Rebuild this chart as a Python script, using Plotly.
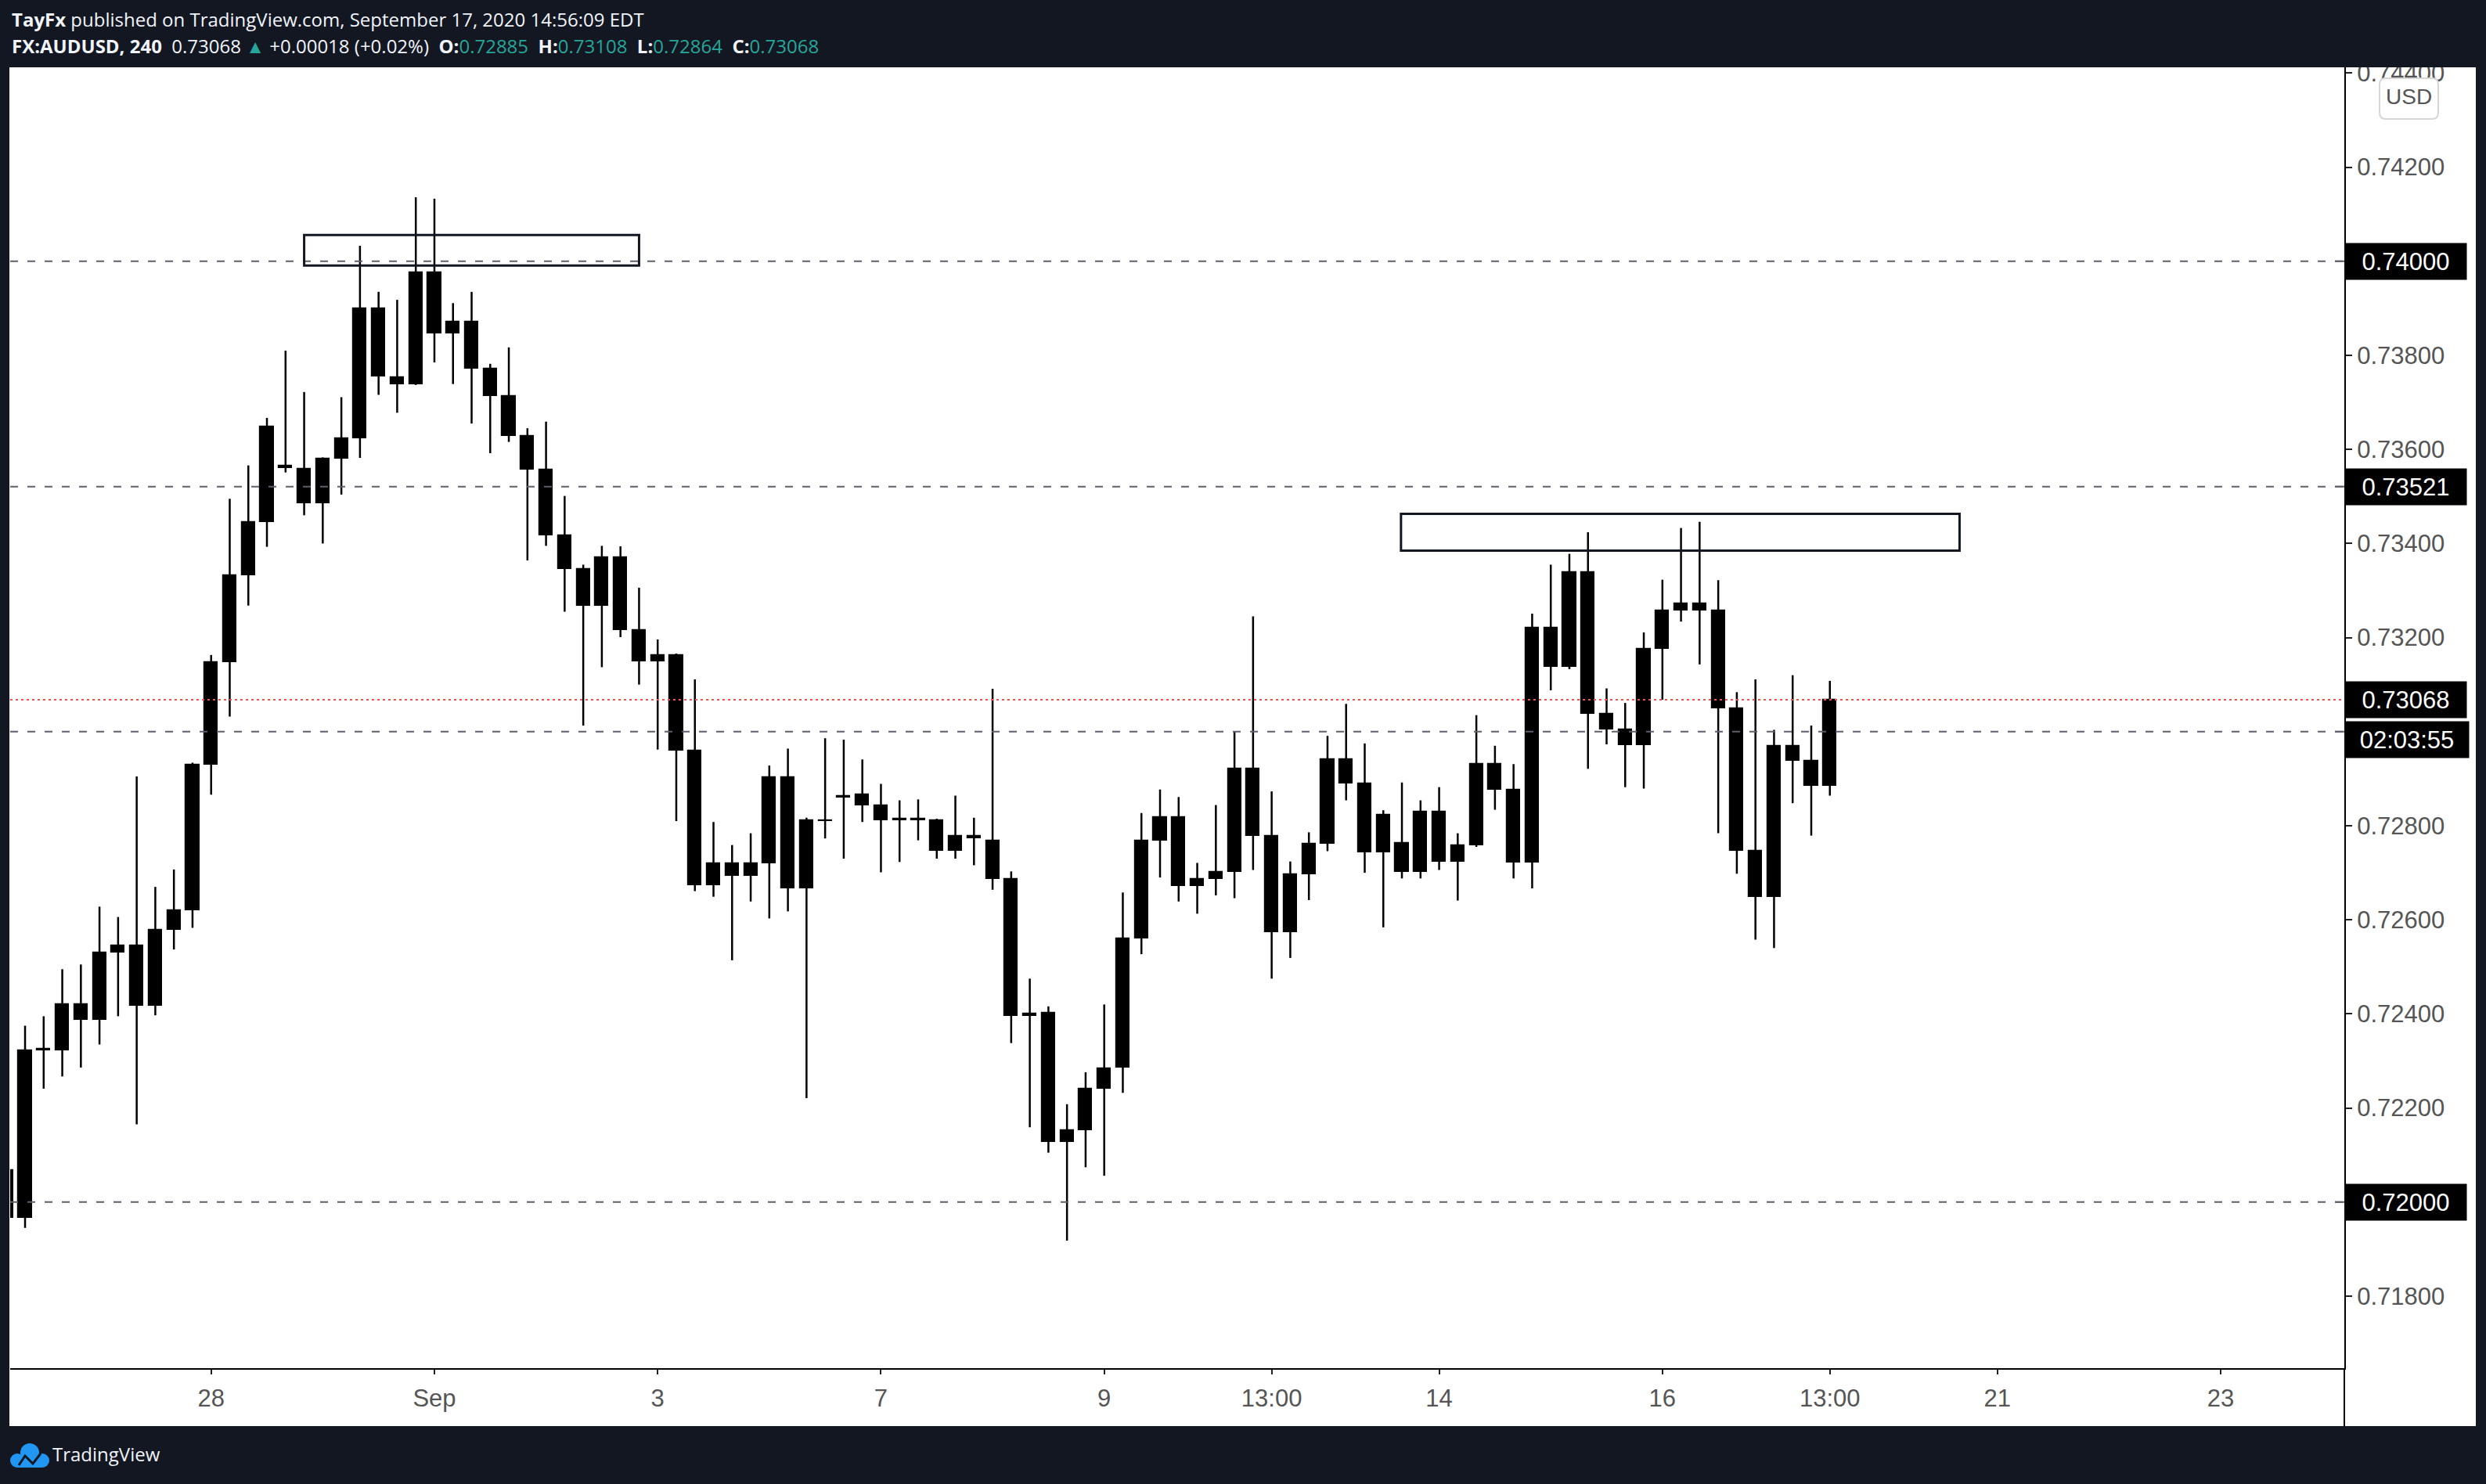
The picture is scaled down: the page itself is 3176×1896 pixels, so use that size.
import plotly.graph_objects as go

# ---------------- data (FX:AUDUSD, 4h bars; bar 0 = Sep 17 13:00) ----------------
bar_pos = list(range(-98, 1))

opens = [0.72068, 0.71967, 0.72323, 0.72322, 0.72420, 0.72387, 0.72530, 0.72545, 0.72417, 0.72579,
         0.72620, 0.72929, 0.73147, 0.73332, 0.73446, 0.73566, 0.73558, 0.73485, 0.73580, 0.73623,
         0.73899, 0.73753, 0.73739, 0.73977, 0.73847, 0.73872, 0.73771, 0.73714, 0.73628, 0.73557,
         0.73418, 0.73346, 0.73267, 0.73371, 0.73216, 0.73149, 0.73163, 0.72960, 0.72674, 0.72720,
         0.72693, 0.72720, 0.72903, 0.72667, 0.72812, 0.72860, 0.72866, 0.72844, 0.72812, 0.72815,
         0.72812, 0.72746, 0.72779, 0.72768, 0.72687, 0.72395, 0.72403, 0.72128, 0.72153, 0.72241,
         0.72286, 0.72560, 0.72769, 0.72818, 0.72672, 0.72687, 0.72701, 0.72921, 0.72778, 0.72574,
         0.72697, 0.72762, 0.72941, 0.72890, 0.72743, 0.72763, 0.72701, 0.72830, 0.72723, 0.72758,
         0.72931, 0.72876, 0.72721, 0.73221, 0.73137, 0.73339, 0.73038, 0.73004, 0.72971, 0.73176,
         0.73257, 0.73273, 0.73257, 0.73049, 0.72746, 0.72648, 0.72970, 0.72938, 0.72885]
highs = [0.72079, 0.72375, 0.72395, 0.72495, 0.72505, 0.72628, 0.72606, 0.72905, 0.72670, 0.72707,
         0.72934, 0.73163, 0.73495, 0.73566, 0.73667, 0.73810, 0.73722, 0.73583, 0.73711, 0.74033,
         0.73935, 0.73918, 0.74136, 0.74133, 0.73911, 0.73935, 0.73782, 0.73817, 0.73645, 0.73659,
         0.73501, 0.73355, 0.73395, 0.73394, 0.73306, 0.73196, 0.73166, 0.73111, 0.72808, 0.72759,
         0.72784, 0.72928, 0.72964, 0.72817, 0.72986, 0.72983, 0.72941, 0.72889, 0.72854, 0.72856,
         0.72815, 0.72864, 0.72817, 0.73091, 0.72703, 0.72475, 0.72416, 0.72208, 0.72276, 0.72420,
         0.72658, 0.72827, 0.72877, 0.72861, 0.72721, 0.72844, 0.73001, 0.73245, 0.72873, 0.72724,
         0.72786, 0.72991, 0.73059, 0.72975, 0.72833, 0.72892, 0.72854, 0.72882, 0.72784, 0.73035,
         0.72970, 0.72931, 0.73251, 0.73355, 0.73378, 0.73424, 0.73092, 0.73061, 0.73211, 0.73323,
         0.73433, 0.73446, 0.73322, 0.73084, 0.73111, 0.73004, 0.73120, 0.73013, 0.73108]
lows = [0.71961, 0.71945, 0.72241, 0.72267, 0.72286, 0.72335, 0.72395, 0.72165, 0.72397, 0.72537,
        0.72583, 0.72866, 0.73032, 0.73268, 0.73393, 0.73551, 0.73460, 0.73400, 0.73504, 0.73582,
        0.73716, 0.73678, 0.73737, 0.73785, 0.73739, 0.73655, 0.73592, 0.73616, 0.73364, 0.73395,
        0.73255, 0.73013, 0.73137, 0.73201, 0.73100, 0.72962, 0.72810, 0.72661, 0.72649, 0.72514,
        0.72639, 0.72603, 0.72618, 0.72221, 0.72773, 0.72730, 0.72808, 0.72701, 0.72723, 0.72769,
        0.72730, 0.72730, 0.72716, 0.72664, 0.72338, 0.72159, 0.72105, 0.71918, 0.72074, 0.72056,
        0.72232, 0.72527, 0.72690, 0.72639, 0.72613, 0.72652, 0.72646, 0.72706, 0.72475, 0.72519,
        0.72642, 0.72746, 0.72854, 0.72700, 0.72584, 0.72688, 0.72688, 0.72706, 0.72641, 0.72755,
        0.72834, 0.72688, 0.72667, 0.73088, 0.73133, 0.72921, 0.72973, 0.72882, 0.72879, 0.73068,
        0.73234, 0.73143, 0.72784, 0.72698, 0.72558, 0.72540, 0.72848, 0.72779, 0.72864]
closes = [0.71967, 0.72323, 0.72325, 0.72420, 0.72387, 0.72530, 0.72545, 0.72417, 0.72579, 0.72620,
          0.72929, 0.73147, 0.73332, 0.73446, 0.73648, 0.73560, 0.73485, 0.73580, 0.73623, 0.73899,
          0.73755, 0.73739, 0.73977, 0.73847, 0.73872, 0.73771, 0.73714, 0.73628, 0.73557, 0.73418,
          0.73346, 0.73267, 0.73371, 0.73216, 0.73149, 0.73163, 0.72960, 0.72674, 0.72720, 0.72693,
          0.72720, 0.72903, 0.72667, 0.72812, 0.72810, 0.72864, 0.72844, 0.72812, 0.72815, 0.72812,
          0.72746, 0.72779, 0.72773, 0.72687, 0.72395, 0.72401, 0.72128, 0.72153, 0.72241, 0.72284,
          0.72560, 0.72769, 0.72818, 0.72672, 0.72687, 0.72701, 0.72921, 0.72778, 0.72574, 0.72697,
          0.72762, 0.72941, 0.72890, 0.72743, 0.72823, 0.72701, 0.72830, 0.72723, 0.72758, 0.72931,
          0.72876, 0.72721, 0.73221, 0.73137, 0.73339, 0.73038, 0.73004, 0.72971, 0.73176, 0.73257,
          0.73273, 0.73257, 0.73049, 0.72746, 0.72648, 0.72970, 0.72938, 0.72885, 0.73068]

tick_pos = [-87, -75, -63, -51, -39, -30, -21, -9, 0, 9, 21]
tick_text = ["28", "Sep", "3", "7", "9", "13:00", "14", "16", "13:00", "21", "23"]
price_ticks = [0.71800, 0.72200, 0.72400, 0.72600, 0.72800, 0.73200, 0.73400, 0.73600, 0.73800, 0.74200, 0.74400]

level_lines = [0.74000, 0.73521, 0.73000, 0.72000]
level_labels = ["0.74000", "0.73521", None, "0.72000"]
last_price = 0.73068
countdown = "02:03:55"
zones = [(-82, -64, 0.73991, 0.74056), (-23.05, 6.97, 0.73385, 0.73463)]

header1 = "<b>TayFx</b> published on TradingView.com, September 17, 2020 14:56:09 EDT"
TEAL = "#26a69a"
header2 = ("<b>FX:AUDUSD, 240</b>  0.73068 <span style='color:%s'>▲</span> +0.00018 (+0.02%%)  "
           "<b>O:</b><span style='color:%s'>0.72885</span>  <b>H:</b><span style='color:%s'>0.73108</span>  "
           "<b>L:</b><span style='color:%s'>0.72864</span>  <b>C:</b><span style='color:%s'>0.73068</span>"
           % (TEAL, TEAL, TEAL, TEAL, TEAL))

# ---------------- geometry ----------------
W, H = 3176, 1896
PL, PR, PT, PB = 13, 2995, 86, 1748
BG = "#131722"


def pxx(px):
    return (px - PL) / (PR - PL)


def pxy(py):
    return (PB - py) / (PB - PT)


fig = go.Figure()

# wicks
wx, wy = [], []
for i, h, l in zip(bar_pos, highs, lows):
    wx += [i, i, None]
    wy += [l, h, None]
fig.add_trace(go.Scatter(x=wx, y=wy, mode="lines", line=dict(color="black", width=2.5),
                         hoverinfo="skip", showlegend=False))

# bodies
fig.add_trace(go.Bar(x=bar_pos, base=[min(o, c) for o, c in zip(opens, closes)],
                     y=[abs(c - o) for o, c in zip(opens, closes)], width=0.72,
                     marker=dict(color="black", line=dict(color="black", width=1.2)),
                     hoverinfo="skip", showlegend=False))

shapes = []
shapes.append(dict(type="rect", xref="paper", yref="paper", x0=pxx(12), x1=pxx(3163), y0=pxy(1822), y1=1,
                   fillcolor="white", line=dict(width=0), layer="below"))
for lv in level_lines:
    shapes.append(dict(type="line", xref="paper", yref="y", x0=0, x1=1, y0=lv, y1=lv,
                       line=dict(color="#5d606b", width=2, dash="10px,12px"), layer="above"))
    shapes.append(dict(type="line", xref="paper", yref="y", x0=pxx(2983), x1=1, y0=lv, y1=lv,
                       line=dict(color="#5d606b", width=2), layer="above"))
shapes.append(dict(type="line", xref="paper", yref="y", x0=0, x1=1, y0=last_price, y1=last_price,
                   line=dict(color="#ef5350", width=2, dash="3px,4px"), layer="above"))
for x0, x1, y0, y1 in zones:
    shapes.append(dict(type="rect", xref="x", yref="y", x0=x0, x1=x1, y0=y0, y1=y1,
                       line=dict(color=BG, width=3), fillcolor="rgba(0,0,0,0)", layer="above"))
shapes.append(dict(type="rect", xref="paper", yref="paper", x0=-0.01, x1=1.07, y0=1, y1=1.1,
                   fillcolor=BG, line=dict(width=0), layer="above"))
shapes.append(dict(type="line", xref="paper", yref="paper", x0=1, x1=1, y0=pxy(1822), y1=0,
                   line=dict(color="black", width=2), layer="above"))
# USD badge (rounded rect)
bx0, bx1, by0, by1, r = 3040, 3115, 100, 152, 8
rx, ry = r / (PR - PL), r / (PB - PT)
X0, X1, Y0, Y1 = pxx(bx0), pxx(bx1), pxy(by1), pxy(by0)
path = (f"M {X0+rx},{Y0} L {X1-rx},{Y0} Q {X1},{Y0} {X1},{Y0+ry} L {X1},{Y1-ry} Q {X1},{Y1} {X1-rx},{Y1} "
        f"L {X0+rx},{Y1} Q {X0},{Y1} {X0},{Y1-ry} L {X0},{Y0+ry} Q {X0},{Y0} {X0+rx},{Y0} Z")
shapes.append(dict(type="path", xref="paper", yref="paper", path=path, fillcolor="white",
                   line=dict(color="#d6d6d6", width=2), layer="above"))
# TradingView logo (cloud)
BLUE = "#2196f3"
for cx, cy, rr in [(22, 1866, 9), (38, 1856, 12), (54, 1866, 9)]:
    shapes.append(dict(type="circle", xref="paper", yref="paper", x0=pxx(cx - rr), x1=pxx(cx + rr),
                       y0=pxy(cy + rr), y1=pxy(cy - rr), fillcolor=BLUE, line=dict(width=0), layer="above"))
shapes.append(dict(type="rect", xref="paper", yref="paper", x0=pxx(22), x1=pxx(54), y0=pxy(1875), y1=pxy(1862),
                   fillcolor=BLUE, line=dict(width=0), layer="above"))
shapes.append(dict(type="path", xref="paper", yref="paper",
                   path=f"M {pxx(24)},{pxy(1872)} L {pxx(32)},{pxy(1860)} L {pxx(42)},{pxy(1870)} L {pxx(52)},{pxy(1857)}",
                   line=dict(color=BG, width=3), layer="above"))

annotations = []
annotations.append(dict(text=header1, xref="paper", yref="paper", x=0, y=1, xanchor="left", yanchor="middle",
                        yshift=PT - 24, showarrow=False, font=dict(family="Open Sans", size=24, color="#f0f3fa")))
annotations.append(dict(text=header2, xref="paper", yref="paper", x=0, y=1, xanchor="left", yanchor="middle",
                        yshift=PT - 58, showarrow=False, font=dict(family="Open Sans", size=24, color="#f0f3fa")))
for lv, lab in zip(level_lines, level_labels):
    if lab is None:
        continue
    annotations.append(dict(text=lab, xref="paper", yref="y", x=1, y=lv, xanchor="left", yanchor="middle",
                            showarrow=False, bgcolor="black", width=153, height=44, borderpad=1, align="center",
                            font=dict(family="Liberation Sans", size=31, color="white")))
annotations.append(dict(text="%.5f" % last_price, xref="paper", yref="y", x=1, y=last_price, xanchor="left",
                        yanchor="middle", showarrow=False, bgcolor="black", width=153, height=44, borderpad=1,
                        align="center", font=dict(family="Liberation Sans", size=31, color="white")))
annotations.append(dict(text=countdown, xref="paper", yref="y", x=1, y=last_price, xanchor="left",
                        yanchor="middle", yshift=-51, showarrow=False, bgcolor="black", width=156, height=44,
                        borderpad=1, align="center", font=dict(family="Liberation Sans", size=31, color="white")))
annotations.append(dict(text="USD", xref="paper", yref="paper", x=pxx(3077.5), y=pxy(124), xanchor="center",
                        yanchor="middle", showarrow=False, font=dict(family="Liberation Sans", size=28, color="#555555")))
annotations.append(dict(text="TradingView", xref="paper", yref="paper", x=pxx(65), y=pxy(1858), xanchor="left",
                        yanchor="middle", showarrow=False, font=dict(family="Open Sans", size=24, color="#f0f3fa")))

fig.update_layout(
    width=W, height=H,
    margin=dict(l=PL, r=W - PR, t=PT, b=H - PB, pad=0),
    paper_bgcolor=BG, plot_bgcolor="white",
    showlegend=False, bargap=0,
    shapes=shapes, annotations=annotations,
    xaxis=dict(range=[-97.8, 27.65], tickmode="array", tickvals=tick_pos, ticktext=tick_text,
               showgrid=False, zeroline=False, showline=True, linecolor="black", linewidth=2,
               ticks="outside", ticklen=6, tickwidth=1.5, tickcolor="#222", ticklabelstandoff=4,
               tickfont=dict(family="Liberation Sans", size=31, color="#555555"), fixedrange=True),
    yaxis=dict(range=[0.716469, 0.744123], side="right", tickmode="array", tickvals=price_ticks,
               tickformat=".5f",
               showgrid=False, zeroline=False, showline=True, linecolor="black", linewidth=2,
               ticks="outside", ticklen=8, tickwidth=1.5, tickcolor="#222",
               tickfont=dict(family="Liberation Sans", size=31, color="#555555"), fixedrange=True),
)

fig.write_html("out.html", config={"displayModeBar": False},
               post_script="document.body.style.margin='0';document.body.style.overflow='hidden';")
